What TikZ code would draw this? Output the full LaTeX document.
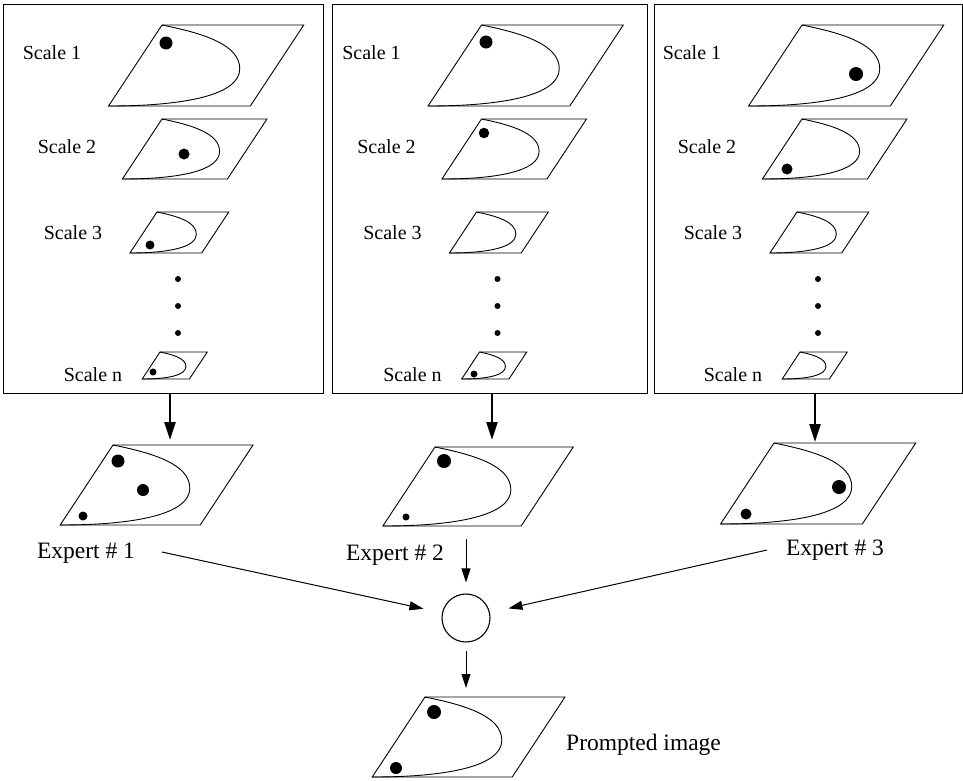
\documentclass[tikz,border=0pt]{standalone}
\usepackage{fontspec}
\setmainfont{Liberation Serif}
\usetikzlibrary{arrows.meta}
\tikzset{
  plateline/.style={line width=0.9pt, line join=miter},
  plate/.pic={
    \draw[plateline] (0,0) -- (1.75,0) -- (1.09,1) -- (-0.66,1) -- cycle;
    \draw[plateline] (0,0) .. controls (0.5,0.1) and (0.96,0.24) .. (0.96,0.54)
                           .. controls (0.96,0.86) and (0.3,1) .. (-0.66,1);
  },
  panel/.style={draw, line width=1.2pt, anchor=north west, inner sep=0pt},
  spot/.style={fill=black, circle, inner sep=0pt, minimum size=#1},
  scalelbl/.style={font=\fontsize{20}{24}\selectfont, inner sep=0pt},
  explbl/.style={font=\fontsize{23.5}{28}\selectfont, inner sep=0pt},
  bigarrow/.style={line width=2.4pt, -{Triangle[length=18pt,width=11pt]}},
  thinarrow/.style={line width=1pt, -{Triangle[length=14pt,width=9pt]}},
  mixer/.style={circle, draw, line width=1.1pt, minimum size=48pt, inner sep=0pt},
}
\begin{document}
\begin{tikzpicture}[x=1pt, y=-1pt]
\useasboundingbox (0,0) rectangle (963,780);

% panels
\node[panel, minimum width=320pt, minimum height=389pt] (p1) at (3,4) {};
\node[panel, minimum width=315pt, minimum height=389pt] (p2) at (332,4) {};
\node[panel, minimum width=308pt, minimum height=389pt] (p3) at (654,4) {};

% panel contents
\foreach \dx/\k in {0/1, 319.5/2, 640/3} {
  \begin{scope}[xshift=\dx pt]
    \pic[scale=81] at (162,25) {plate};
    \pic[scale=60] at (162,119) {plate};
    \pic[scale=41] at (157,212) {plate};
    \pic[scale=27] at (160,352) {plate};
    \node[scalelbl] (sa\k) at (52,53) {Scale 1};
    \node[scalelbl] (sb\k) at (67,147) {Scale 2};
    \node[scalelbl] (sc\k) at (73,233) {Scale 3};
    \node[scalelbl] (sn\k) at (93,375) {Scale n};
    \node[spot=6pt] (va\k) at (178,279) {};
    \node[spot=6pt] (vb\k) at (178,306) {};
    \node[spot=6pt] (vc\k) at (178,333) {};
  \end{scope}
}

% dots in panels
\node[spot=13pt] (d11) at (166,43) {};
\node[spot=11pt] (d12) at (184,154) {};
\node[spot=9pt]  (d13) at (150,245) {};
\node[spot=7pt]  (d1n) at (153,372) {};
\node[spot=13pt] (d21) at (486,42) {};
\node[spot=10.5pt] (d22) at (484,133) {};
\node[spot=7pt]  (d2n) at (474,374) {};
\node[spot=14pt] (d31) at (856,74) {};
\node[spot=11pt] (d32) at (787,169) {};

% expert maps
\pic[scale=80] at (113,445) {plate};
\pic[scale=79] at (435,447) {plate};
\pic[scale=81] at (774,443) {plate};
\node[spot=13pt] (e1a) at (118,461) {};
\node[spot=12pt] (e1b) at (143,490) {};
\node[spot=9pt]  (e1c) at (83,516) {};
\node[spot=14pt] (e2a) at (444,461) {};
\node[spot=7pt]  (e2b) at (406,517) {};
\node[spot=14pt] (e3a) at (839,487) {};
\node[spot=11pt] (e3b) at (746,514) {};

\coordinate (t1) at (170,440);
\coordinate (t2) at (492,440);
\coordinate (t3) at (815,442);
\draw[bigarrow] (p1.south -| t1) -- (t1);
\draw[bigarrow] (p2.south -| t2) -- (t2);
\draw[bigarrow] (p3.south -| t3) -- (t3);

\node[explbl] (x1) at (86,553) {Expert \# 1};
\node[explbl] (x2) at (395,555) {Expert \# 2};
\node[explbl] (x3) at (835,550) {Expert \# 3};

% combiner
\node[mixer] (mix) at (466,618) {};
\coordinate (s1) at (162,552);
\coordinate (s2) at (466,539);
\coordinate (s3) at (767,550);
\draw[thinarrow, shorten >=19pt] (s1) -- (mix);
\draw[thinarrow, shorten >=11pt] (s2) -- (mix);
\draw[thinarrow, shorten >=19pt] (s3) -- (mix);

% prompted image
\coordinate (pt) at (466,688);
\draw[thinarrow, shorten <=8pt] (mix) -- (pt);
\pic[scale=80] at (425,697) {plate};
\node[spot=14pt] (pa) at (434,712) {};
\node[spot=12pt] (pb) at (396,768) {};
\node[explbl, anchor=west] (plbl) at (566,745) {Prompted image};
\end{tikzpicture}
\end{document}
